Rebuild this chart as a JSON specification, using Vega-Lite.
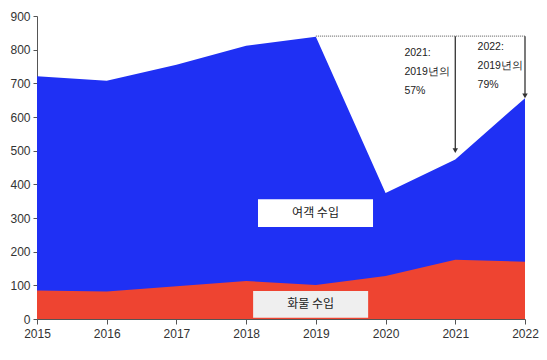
{
  "$schema": "https://vega.github.io/schema/vega-lite/v6.json",
  "width": 488,
  "height": 303,
  "autosize": "none",
  "padding": {"left": 37, "top": 16, "right": 22, "bottom": 41},
  "background": "white",
  "config": {"view": {"stroke": null}, "font": "Liberation Sans",
    "axis": {"title": null, "grid": false, "labelOverlap": false, "labelFontSize": 12, "labelColor": "#333333", "domainColor": "#555555", "tickColor": "#555555", "format": "d"},
    "axisX": {"tickSize": 5, "labelPadding": 4, "labelFlush": false},
    "axisY": {"tickSize": 4, "labelPadding": 3}
  },
  "datasets": {
    "rev": [
      {"year": 2015, "total": 721, "cargo": 85},
      {"year": 2016, "total": 708, "cargo": 82},
      {"year": 2017, "total": 755, "cargo": 97},
      {"year": 2018, "total": 812, "cargo": 113},
      {"year": 2019, "total": 838, "cargo": 101},
      {"year": 2020, "total": 374, "cargo": 128},
      {"year": 2021, "total": 474, "cargo": 176},
      {"year": 2022, "total": 656, "cargo": 170}
    ],
    "arrows": [
      {"year": 2021, "top": 840, "tip": 500},
      {"year": 2022, "top": 840, "tip": 663}
    ],
    "notes": [
      {"x": 2020.27, "y": 806, "label": "2021:\n2019년의\n57%"},
      {"x": 2021.32, "y": 824, "label": "2022:\n2019년의\n79%"}
    ],
    "boxes": [
      {"x": 2018.17, "x2": 2019.82, "y": 273, "y2": 356, "tx": 2018.995, "ty": 315, "label": "여객 수입", "fill": "#ffffff"},
      {"x": 2018.10, "x2": 2019.75, "y": 4, "y2": 83, "tx": 2018.925, "ty": 44, "label": "화물 수입", "fill": "#efefef"}
    ]
  },
  "layer": [
    {
      "data": {"name": "rev"},
      "mark": {"type": "area", "color": "#1f30f4", "interpolate": "linear"},
      "encoding": {
        "x": {"field": "year", "type": "quantitative", "scale": {"domain": [2015, 2022], "nice": false, "zero": false},
          "axis": {"values": [2015, 2016, 2017, 2018, 2019, 2020, 2021, 2022]}},
        "y": {"field": "total", "type": "quantitative", "scale": {"domain": [0, 900], "nice": false},
          "axis": {"values": [0, 100, 200, 300, 400, 500, 600, 700, 800, 900]}}
      }
    },
    {
      "data": {"name": "rev"},
      "mark": {"type": "area", "color": "#ee4431"},
      "encoding": {
        "x": {"field": "year", "type": "quantitative", "axis": {"values": [2015, 2016, 2017, 2018, 2019, 2020, 2021, 2022]}},
        "y": {"field": "cargo", "type": "quantitative", "axis": {"values": [0, 100, 200, 300, 400, 500, 600, 700, 800, 900]}}
      }
    },
    {
      "data": {"values": [{"x": 2019, "x2": 2022, "y": 840}]},
      "mark": {"type": "rule", "color": "#777777", "strokeDash": [1, 1], "strokeWidth": 1.2},
      "encoding": {
        "x": {"field": "x", "type": "quantitative", "axis": {"values": [2015, 2016, 2017, 2018, 2019, 2020, 2021, 2022]}},
        "x2": {"field": "x2"},
        "y": {"field": "y", "type": "quantitative", "axis": {"values": [0, 100, 200, 300, 400, 500, 600, 700, 800, 900]}}
      }
    },
    {
      "data": {"name": "arrows"},
      "mark": {"type": "rule", "color": "#333333", "strokeWidth": 1.3},
      "encoding": {
        "x": {"field": "year", "type": "quantitative", "axis": {"values": [2015, 2016, 2017, 2018, 2019, 2020, 2021, 2022]}},
        "y": {"field": "top", "type": "quantitative", "axis": {"values": [0, 100, 200, 300, 400, 500, 600, 700, 800, 900]}},
        "y2": {"field": "tip"}
      }
    },
    {
      "data": {"name": "arrows"},
      "mark": {"type": "point", "shape": "triangle-down", "filled": true, "color": "#333333", "size": 30, "opacity": 1},
      "encoding": {
        "x": {"field": "year", "type": "quantitative", "axis": {"values": [2015, 2016, 2017, 2018, 2019, 2020, 2021, 2022]}},
        "y": {"field": "tip", "type": "quantitative", "axis": {"values": [0, 100, 200, 300, 400, 500, 600, 700, 800, 900]}}
      }
    },
    {
      "data": {"name": "notes"},
      "mark": {"type": "text", "align": "left", "baseline": "top", "font": "Liberation Sans", "fontSize": 10.5, "fontWeight": 500, "color": "#222222", "lineHeight": 19, "lineBreak": "\n"},
      "encoding": {
        "x": {"field": "x", "type": "quantitative", "axis": {"values": [2015, 2016, 2017, 2018, 2019, 2020, 2021, 2022]}},
        "y": {"field": "y", "type": "quantitative", "axis": {"values": [0, 100, 200, 300, 400, 500, 600, 700, 800, 900]}},
        "text": {"field": "label"}
      }
    },
    {
      "data": {"name": "boxes"},
      "mark": {"type": "rect"},
      "encoding": {
        "x": {"field": "x", "type": "quantitative", "axis": {"values": [2015, 2016, 2017, 2018, 2019, 2020, 2021, 2022]}},
        "x2": {"field": "x2"},
        "y": {"field": "y", "type": "quantitative", "axis": {"values": [0, 100, 200, 300, 400, 500, 600, 700, 800, 900]}},
        "y2": {"field": "y2"},
        "color": {"field": "fill", "type": "nominal", "scale": null}
      }
    },
    {
      "data": {"name": "boxes"},
      "mark": {"type": "text", "align": "center", "baseline": "middle", "font": "Noto Sans CJK KR", "fontSize": 12, "color": "#222222"},
      "encoding": {
        "x": {"field": "tx", "type": "quantitative", "axis": {"values": [2015, 2016, 2017, 2018, 2019, 2020, 2021, 2022]}},
        "y": {"field": "ty", "type": "quantitative", "axis": {"values": [0, 100, 200, 300, 400, 500, 600, 700, 800, 900]}},
        "text": {"field": "label"}
      }
    }
  ]
}
